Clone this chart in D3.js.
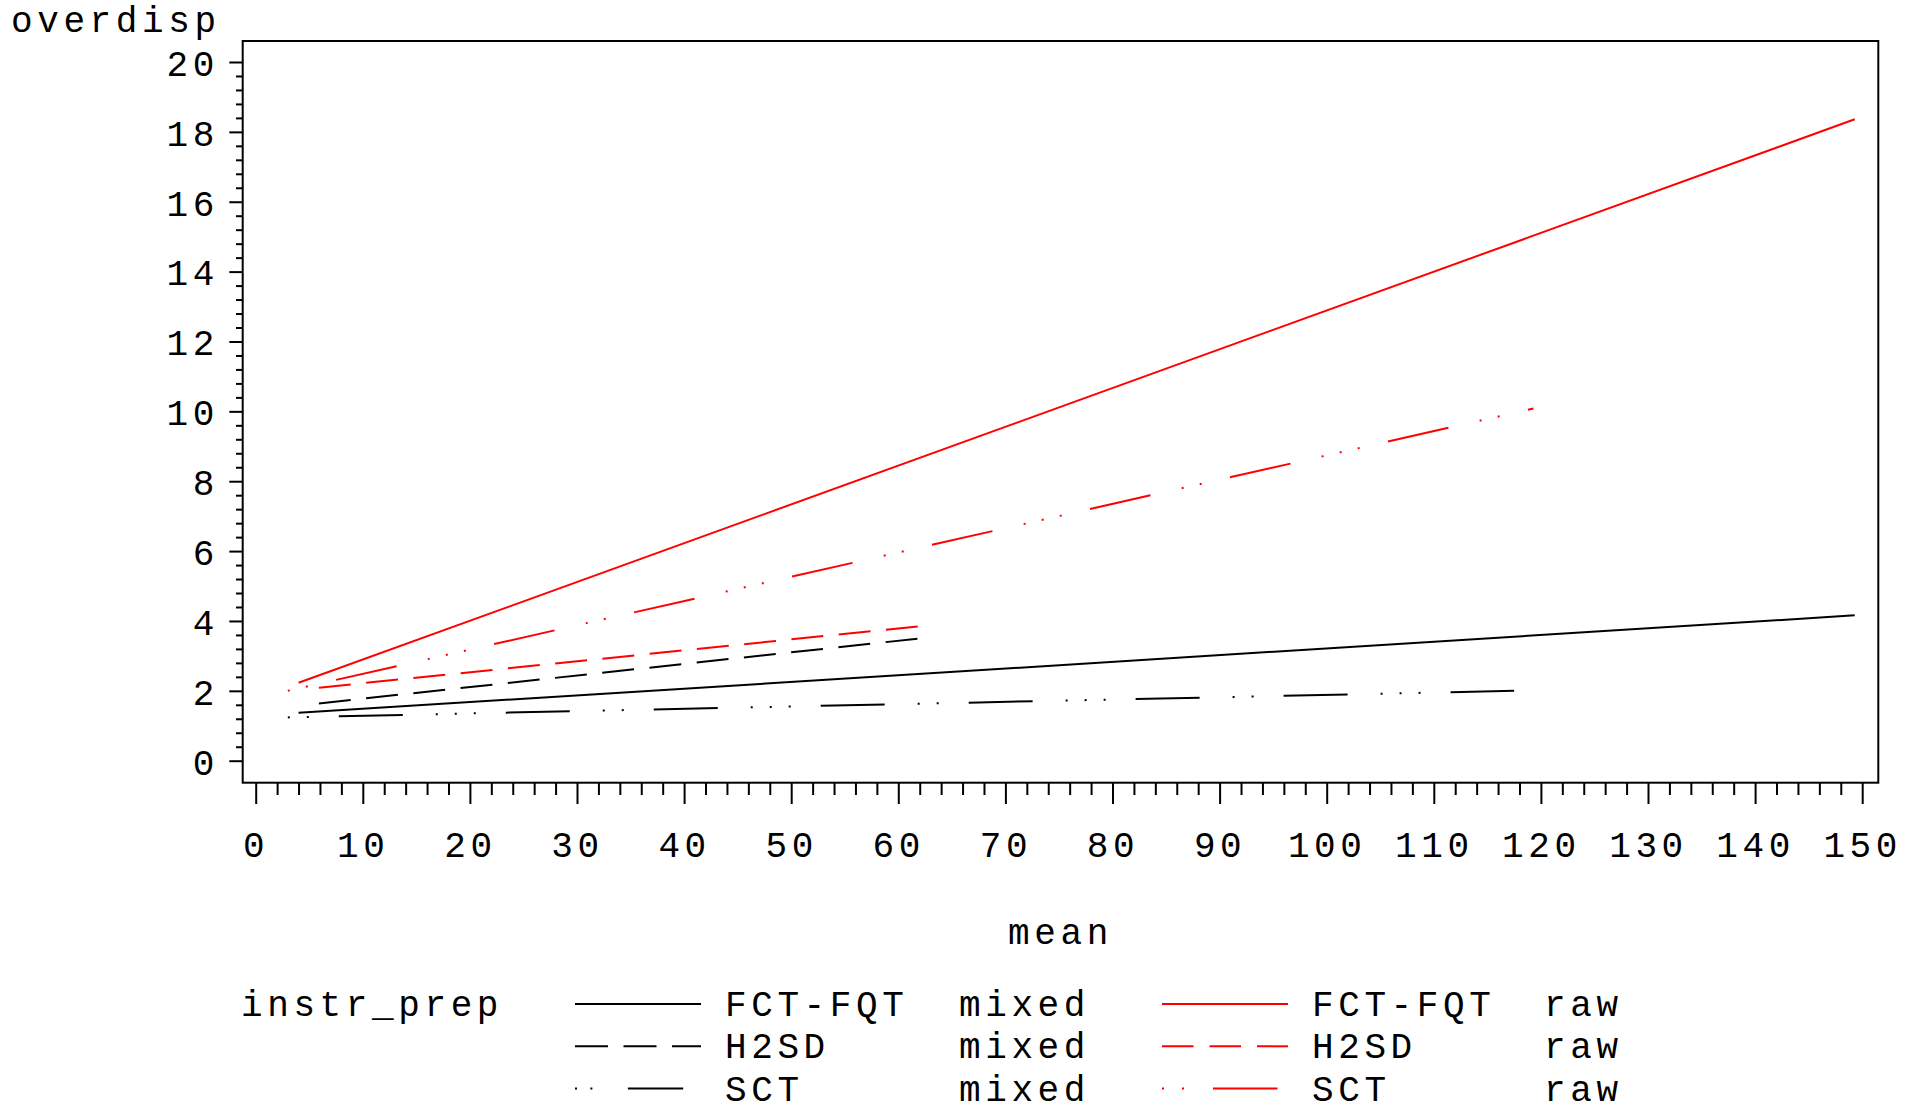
<!DOCTYPE html>
<html>
<head>
<meta charset="utf-8">
<script src="https://cdn.jsdelivr.net/npm/d3@7"></script>
<style>
  html, body { margin: 0; padding: 0; background: #fff; }
  svg { display: block; }
  text { font-family: "Liberation Mono", "DejaVu Sans Mono", monospace; font-size: 36px; letter-spacing: 4.6px; fill: #000; }
</style>
</head>
<body>
<svg id="chart" width="1907" height="1106"></svg>
<script>
// Categories
const instrCodes = ["FCT-FQT", "H2SD", "SCT"];
const prepTypes = ["mixed", "raw"];

// Tick labels
const xTickValues = [0, 10, 20, 30, 40, 50, 60, 70, 80, 90, 100, 110, 120, 130, 140, 150];
const yTickValues = [0, 2, 4, 6, 8, 10, 12, 14, 16, 18, 20];

// Fitted overdispersion against mean: start and end of each line
const fctMixedMean = [4.0, 149.3];
const fctMixedOverdisp = [1.37, 4.16];
const h2sdMixedMean = [5.9, 62.0];
const h2sdMixedOverdisp = [1.64, 3.50];
const sctMixedMean = [3.0, 117.5];
const sctMixedOverdisp = [1.24, 2.00];
const fctRawMean = [4.0, 149.3];
const fctRawOverdisp = [2.23, 18.36];
const h2sdRawMean = [5.9, 62.0];
const h2sdRawOverdisp = [2.09, 3.85];
const sctRawMean = [3.0, 119.3];
const sctRawOverdisp = [2.00, 10.08];

const series = [
  { instr: "FCT-FQT", prep: "mixed", mean: fctMixedMean, od: fctMixedOverdisp },
  { instr: "H2SD",    prep: "mixed", mean: h2sdMixedMean, od: h2sdMixedOverdisp },
  { instr: "SCT",     prep: "mixed", mean: sctMixedMean, od: sctMixedOverdisp },
  { instr: "FCT-FQT", prep: "raw",   mean: fctRawMean, od: fctRawOverdisp },
  { instr: "H2SD",    prep: "raw",   mean: h2sdRawMean, od: h2sdRawOverdisp },
  { instr: "SCT",     prep: "raw",   mean: sctRawMean, od: sctRawOverdisp }
].map(s => ({ ...s, points: s.mean.map((m, i) => [m, s.od[i]]) }));

// Line styles
const colorOf = { mixed: "#000000", raw: "#ff0000" };
const plotDash = {
  "FCT-FQT": { mixed: null, raw: null },
  "H2SD": { mixed: "32,15.5", raw: "32,15.5" },
  "SCT": {
    mixed: "2,17,2,30,64,33,2,17,2,17,2,30,64,33",
    raw: "2,16.5,2,29,62,32,2,16.5,2,16.5,2,29,62,32"
  }
};
const legendDash = {
  "FCT-FQT": { mixed: null, raw: null },
  "H2SD": { mixed: "33,15.5", raw: "31.5,16" },
  "SCT": { mixed: "2,13.4,2,35.5,55.3,40", raw: "2,18,2,29,64.5,40" }
};

const svg = d3.select("#chart");

// Plot frame
const frame = { left: 242.7, top: 41, right: 1878.3, bottom: 782.7 };

const x = d3.scaleLinear().domain([0, 150]).range([255.7, 1862.2]);
const y = d3.scaleLinear().domain([0, 20]).range([760.7, 62]);

// Axes: minor ticks, then major ticks with labels
const xMinor = d3.range(0, 76).map(i => i * 2).filter(v => v % 10 !== 0);
const yMinor = d3.range(0, 51).map(i => +(i * 0.4).toFixed(1)).filter(v => Math.abs(v / 2 - Math.round(v / 2)) > 1e-6);

const gx = svg.append("g").attr("transform", `translate(0,${frame.bottom})`);
gx.append("g").call(d3.axisBottom(x).tickValues(xMinor).tickSize(12.3).tickSizeOuter(0).tickFormat(""));
gx.append("g").call(d3.axisBottom(x).tickValues(xTickValues).tickSize(21.3).tickSizeOuter(0).tickPadding(27).tickFormat(d3.format("d")));

const gy = svg.append("g").attr("transform", `translate(${frame.left},0)`);
gy.append("g").call(d3.axisLeft(y).tickValues(yMinor).tickSize(6.7).tickSizeOuter(0).tickFormat(""));
gy.append("g").call(d3.axisLeft(y).tickValues(yTickValues).tickSize(13.4).tickSizeOuter(0).tickPadding(10.3).tickFormat(d3.format("d")));

svg.selectAll(".domain").remove();
svg.selectAll(".tick line").attr("stroke", "#000").attr("stroke-width", 2);
gy.selectAll(".tick text").attr("dy", "0.37em");

svg.append("rect")
  .attr("x", frame.left).attr("y", frame.top)
  .attr("width", frame.right - frame.left).attr("height", frame.bottom - frame.top)
  .attr("fill", "none").attr("stroke", "#000").attr("stroke-width", 2);

// Lines
const line = d3.line().x(d => x(d[0])).y(d => y(d[1]));
svg.append("g").selectAll("path")
  .data(series)
  .join("path")
  .attr("d", d => line(d.points))
  .attr("fill", "none")
  .attr("stroke", d => colorOf[d.prep])
  .attr("stroke-width", 2)
  .attr("stroke-dasharray", d => plotDash[d.instr][d.prep]);

// Axis titles
svg.append("text").attr("x", 11).attr("y", 32).text("overdisp");
svg.append("text").attr("x", (frame.left + frame.right) / 2).attr("y", 944)
  .attr("text-anchor", "middle").text("mean");

// Legend
const legendTop = 1004, legendRowGap = 42.3;
const colX = { mixed: 575, raw: 1162 };
svg.append("text").attr("x", 241).attr("y", legendTop + 12).text("instr_prep");

const entries = series.map(s => ({ instr: s.instr, prep: s.prep, row: instrCodes.indexOf(s.instr) }));
const lg = svg.append("g").selectAll("g")
  .data(entries)
  .join("g")
  .attr("transform", d => `translate(${colX[d.prep]},${legendTop + d.row * legendRowGap})`);

lg.append("line")
  .attr("x1", 0).attr("x2", 126).attr("y1", 0).attr("y2", 0)
  .attr("stroke", d => colorOf[d.prep]).attr("stroke-width", 2)
  .attr("stroke-dasharray", d => legendDash[d.instr][d.prep]);
lg.append("text").attr("x", 150).attr("y", 12).text(d => d.instr);
lg.append("text").attr("x", d => d.prep === "mixed" ? 384 : 382).attr("y", 12).text(d => d.prep);
</script>
</body>
</html>
